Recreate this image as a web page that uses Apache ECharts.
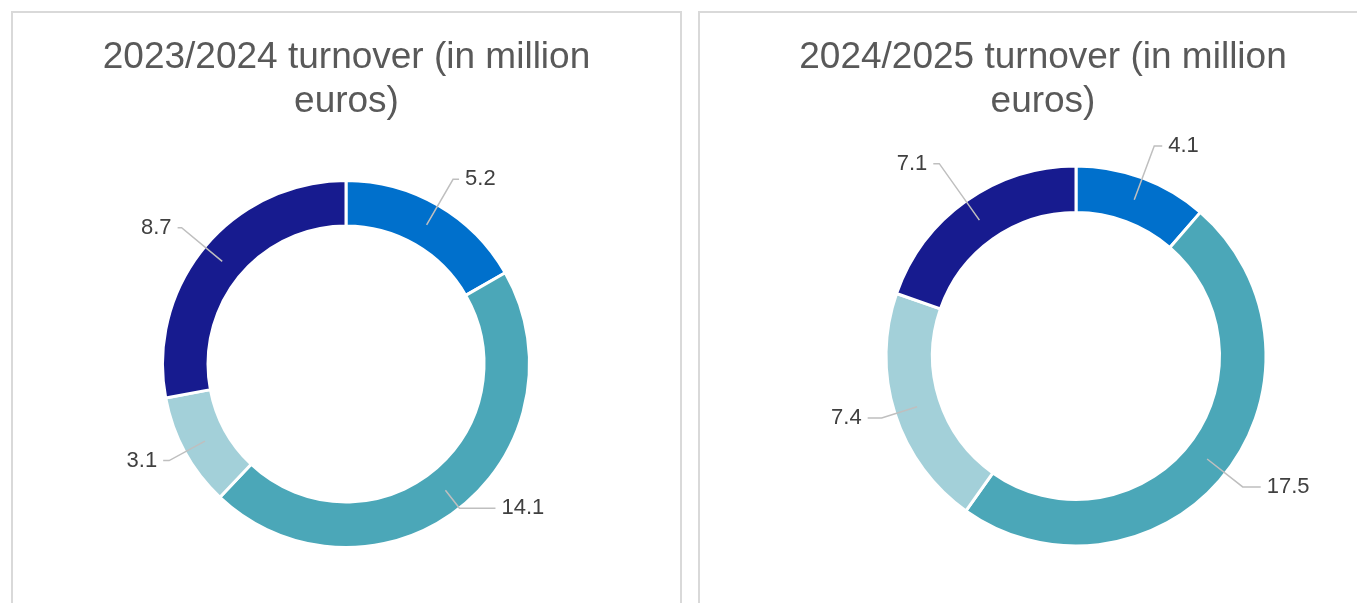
<!DOCTYPE html>
<html>
<head>
<meta charset="utf-8">
<script src="https://cdn.jsdelivr.net/npm/echarts@6/dist/echarts.min.js"></script>
<style>
  html, body { margin: 0; padding: 0; background: #fff; overflow: hidden; }
  body { width: 1357px; height: 603px; position: relative; }
  .panel {
    position: absolute;
    top: 11px;
    height: 640px;
    border: 2px solid #d9d9d9;
    box-sizing: border-box;
    background: #fff;
  }
  .chart { width: 100%; height: 100%; }
</style>
</head>
<body>
<div class="panel" style="left: 11px; width: 671px;"><div id="chartLeft" class="chart"></div></div>
<div class="panel" style="left: 698px; width: 690px;"><div id="chartRight" class="chart"></div></div>
<script>
// segments, clockwise from 12 o'clock
const segments = ["Segment 1", "Segment 2", "Segment 3", "Segment 4"];
const turnover2324 = [5.2, 14.1, 3.1, 8.7];
const turnover2425 = [4.1, 17.5, 7.4, 7.1];
const titles = [
  "2023/2024 turnover (in million\neuros)",
  "2024/2025 turnover (in million\neuros)",
];

// leader line lengths per slice beyond the ring (radial part, horizontal part)
const leader2324 = [[30, 6], [0, 36], [18, 6], [30, 4]];
const leader2425 = [[34, 8], [22, 18], [14, 14], [46, 6]];

const colors = ["#0070cc", "#4ba7b8", "#a3d0d9", "#171b8f"];
const FONT = "'Liberation Sans', Arial, sans-serif";

const buildOption = (title, values, leaders, center, radius) => {
  // labels hang off an invisible pie ending mid-ring, so the leader
  // lines start inside the ring like in the original
  const midRing = (radius[0] + radius[1]) / 2;
  const ringHalf = radius[1] - midRing;
  return {
    animation: false,
    title: {
      text: title,
      left: "center",
      top: 23,
      padding: 0,
      textStyle: {
        fontFamily: FONT,
        fontSize: 37,
        fontWeight: "normal",
        color: "#595959",
        lineHeight: 44,
      },
    },
    series: [
      {
        type: "pie",
        z: 2,
        center: center,
        radius: radius,
        startAngle: 90,
        clockwise: true,
        color: colors,
        silent: true,
        itemStyle: {
          borderColor: "#ffffff",
          borderWidth: 3,
        },
        label: { show: false },
        labelLine: { show: false },
        emphasis: { disabled: true },
        data: segments.map((name, i) => ({ name: name, value: values[i] })),
      },
      {
        type: "pie",
        z: 5,
        center: center,
        radius: [0, midRing],
        startAngle: 90,
        clockwise: true,
        silent: true,
        avoidLabelOverlap: false,
        itemStyle: { color: "rgba(255,255,255,0)", borderWidth: 0 },
        label: {
          show: true,
          position: "outside",
          fontFamily: FONT,
          fontSize: 22,
          color: "#404040",
          formatter: (p) => p.value.toFixed(1),
          distanceToLabelLine: 6,
        },
        labelLine: {
          show: true,
          showAbove: true,
          lineStyle: { color: "#bfbfbf", width: 1.5 },
        },
        emphasis: { disabled: true },
        data: segments.map((name, i) => ({
          name: name,
          value: values[i],
          labelLine: { length: leaders[i][0] + ringHalf, length2: leaders[i][1] },
        })),
      },
    ],
  };
};

const left = echarts.init(document.getElementById("chartLeft"));
left.setOption(buildOption(titles[0], turnover2324, leader2324, [333, 351], [138, 183.5]));

const right = echarts.init(document.getElementById("chartRight"));
right.setOption(buildOption(titles[1], turnover2425, leader2425, [376, 343], [143.5, 190]));
</script>
</body>
</html>
